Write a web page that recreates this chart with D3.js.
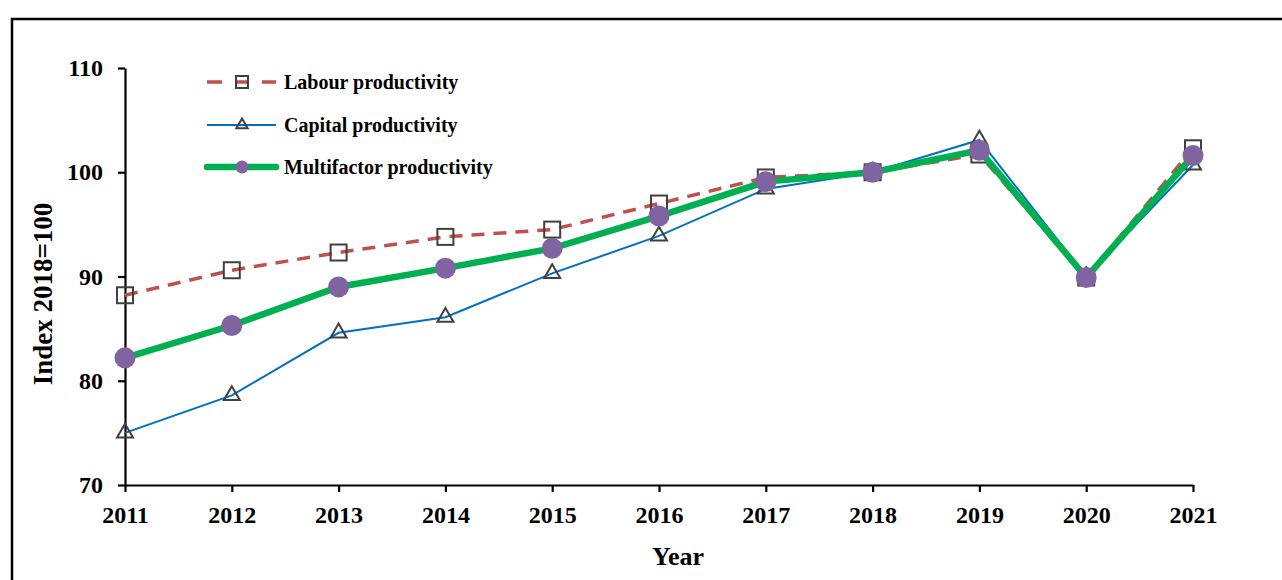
<!DOCTYPE html>
<html>
<head>
<meta charset="utf-8">
<script src="https://cdn.jsdelivr.net/npm/d3@7"></script>
<style>
	body { margin: 0; background: #fff; }
	svg text { font-family: "Liberation Serif", "Times New Roman", serif; font-weight: bold; fill: #000; }
	.axis path, .axis line { stroke: #000; stroke-width: 2.2px; }
</style>
</head>
<body>
<div id="chart"></div>
<script>
// data
const years = [2011, 2012, 2013, 2014, 2015, 2016, 2017, 2018, 2019, 2020, 2021];
const labour = [88.2, 90.6, 92.3, 93.8, 94.5, 97.0, 99.5, 100, 101.7, 89.9, 102.3];
const capital = [75.0, 78.6, 84.6, 86.1, 90.3, 93.9, 98.4, 100, 103.1, 90.0, 100.7];
const multifactor = [82.2, 85.3, 89.0, 90.8, 92.7, 95.8, 99.1, 100, 102.1, 89.9, 101.6];
const yTicks = [70, 80, 90, 100, 110];
const seriesNames = ['Labour productivity', 'Capital productivity', 'Multifactor productivity'];

const width = 1282, height = 580;
const margin = { top: 68, right: 89, bottom: 95, left: 125 };

const svg = d3.select('#chart').append('svg')
	.attr('width', width)
	.attr('height', height);

// outer frame (runs off the right and bottom edges like the original)
svg.append('rect')
	.attr('x', 12).attr('y', 19)
	.attr('width', 1400).attr('height', 700)
	.attr('fill', 'none')
	.attr('stroke', '#000')
	.attr('stroke-width', 2.5);

const xScale = d3.scalePoint()
	.domain(years)
	.range([margin.left, width - margin.right]);

const yScale = d3.scaleLinear()
	.domain([70, 110])
	.range([height - margin.bottom, margin.top]);

// axes
svg.append('g')
	.attr('class', 'axis x-axis')
	.attr('transform', `translate(0, ${yScale(70)})`)
	.call(d3.axisBottom(xScale).tickSizeInner(7).tickSizeOuter(0).tickPadding(14))
	.call(g => g.selectAll('text').style('font-size', '24px'));

svg.append('g')
	.attr('class', 'axis y-axis')
	.attr('transform', `translate(${margin.left}, 0)`)
	.call(d3.axisLeft(yScale).tickValues(yTicks).tickSizeInner(7).tickSizeOuter(0).tickPadding(15))
	.call(g => g.selectAll('text').style('font-size', '24px'));

// axis titles
svg.append('text')
	.attr('x', 678).attr('y', 565)
	.attr('text-anchor', 'middle')
	.style('font-size', '26px')
	.text('Year');

svg.append('text')
	.attr('transform', 'translate(52, 294) rotate(-90)')
	.attr('text-anchor', 'middle')
	.style('font-size', '27px')
	.text('Index 2018=100');

const line = d3.line()
	.x((d, i) => xScale(years[i]))
	.y(d => yScale(d));

// labour productivity
svg.append('path')
	.datum(labour)
	.attr('d', line)
	.attr('fill', 'none')
	.attr('stroke', '#C0504D')
	.attr('stroke-width', 3.5)
	.attr('stroke-dasharray', '13,9');

svg.selectAll('.sq')
	.data(labour)
	.join('rect')
	.attr('class', 'sq')
	.attr('x', (d, i) => xScale(years[i]) - 8)
	.attr('y', d => yScale(d) - 8)
	.attr('width', 16).attr('height', 16)
	.attr('fill', 'none')
	.attr('stroke', '#404040')
	.attr('stroke-width', 2);

// capital productivity
svg.append('path')
	.datum(capital)
	.attr('d', line)
	.attr('fill', 'none')
	.attr('stroke', '#0070C0')
	.attr('stroke-width', 2);

const tri = d3.symbol().type(d3.symbolTriangle).size(110);
svg.selectAll('.tri')
	.data(capital)
	.join('path')
	.attr('class', 'tri')
	.attr('d', tri)
	.attr('transform', (d, i) => `translate(${xScale(years[i])}, ${yScale(d)})`)
	.attr('fill', 'none')
	.attr('stroke', '#404040')
	.attr('stroke-width', 2);

// multifactor productivity
svg.append('path')
	.datum(multifactor)
	.attr('d', line)
	.attr('fill', 'none')
	.attr('stroke', '#00B050')
	.attr('stroke-width', 6.5);

svg.selectAll('.dot')
	.data(multifactor)
	.join('circle')
	.attr('class', 'dot')
	.attr('cx', (d, i) => xScale(years[i]))
	.attr('cy', d => yScale(d))
	.attr('r', 10.5)
	.attr('fill', '#8064A2');

// legend
const legend = svg.append('g').attr('transform', 'translate(207, 0)');
const legendY = [82, 125, 167];

legend.append('line')
	.attr('x1', 0).attr('x2', 69).attr('y1', legendY[0]).attr('y2', legendY[0])
	.attr('stroke', '#C0504D').attr('stroke-width', 3.5)
	.attr('stroke-dasharray', '15,14,12,14,15');
legend.append('rect')
	.attr('x', 35 - 6).attr('y', legendY[0] - 6)
	.attr('width', 12).attr('height', 12)
	.attr('fill', 'none').attr('stroke', '#404040').attr('stroke-width', 2);

legend.append('line')
	.attr('x1', 0).attr('x2', 69).attr('y1', legendY[1]).attr('y2', legendY[1])
	.attr('stroke', '#0070C0').attr('stroke-width', 2);
legend.append('path')
	.attr('d', d3.symbol().type(d3.symbolTriangle).size(55))
	.attr('transform', `translate(35, ${legendY[1]})`)
	.attr('fill', 'none').attr('stroke', '#404040').attr('stroke-width', 2);

legend.append('line')
	.attr('x1', 0).attr('x2', 69).attr('y1', legendY[2]).attr('y2', legendY[2])
	.attr('stroke', '#00B050').attr('stroke-width', 6.5).attr('stroke-linecap', 'round');
legend.append('circle')
	.attr('cx', 35).attr('cy', legendY[2]).attr('r', 6.5)
	.attr('fill', '#8064A2');

legend.selectAll('.legend-label')
	.data(seriesNames)
	.join('text')
	.attr('class', 'legend-label')
	.attr('x', 77)
	.attr('y', (d, i) => legendY[i])
	.attr('dy', '0.35em')
	.style('font-size', '20px')
	.text(d => d);
</script>
</body>
</html>
